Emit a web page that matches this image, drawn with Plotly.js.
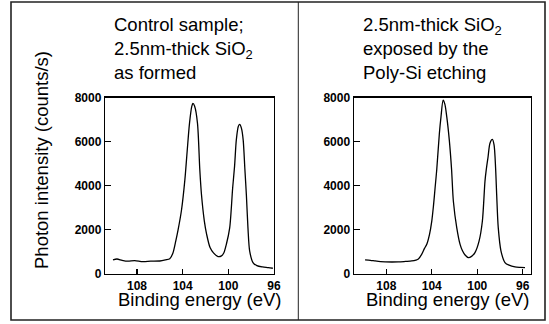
<!DOCTYPE html>
<html>
<head>
<meta charset="utf-8">
<script src="https://cdn.plot.ly/plotly-3.0.1.min.js"></script>
<style>html,body{margin:0;padding:0;background:#fff;}#chart{width:549px;height:324px;}</style>
</head>
<body>
<div id="chart"></div>
<script>
// Left panel: control sample, 2.5nm-thick SiO2 as formed
var energyControl = [110.1, 109.75, 109.3, 108.8, 108.2, 107.5, 106.8, 106.0, 105.5, 105.13, 104.85, 104.6, 104.4, 104.1, 103.8, 103.6, 103.4, 103.2, 103.1, 102.95, 102.7, 102.5, 102.35, 102.1, 101.9, 101.6, 101.3, 100.9, 100.6, 100.4, 100.17, 99.88, 99.62, 99.45, 99.3, 99.12, 99.0, 98.85, 98.7, 98.55, 98.42, 98.28, 98.13, 97.84, 97.5, 97.0, 96.5, 96.1];
var countsControl = [640, 680, 620, 580, 610, 560, 580, 590, 640, 690, 950, 1500, 2000, 2900, 4300, 5600, 6830, 7600, 7730, 7600, 6830, 4750, 3590, 2400, 1800, 1200, 960, 790, 820, 950, 1350, 2090, 3900, 4900, 6080, 6700, 6780, 6600, 6080, 4750, 3590, 2090, 1040, 520, 380, 320, 290, 260];

// Right panel: 2.5nm-thick SiO2 exposed by the Poly-Si etching
var energyEtched = [109.87, 109.4, 108.99, 108.5, 108.11, 107.5, 106.94, 106.3, 105.76, 105.4, 105.18, 104.88, 104.65, 104.44, 104.2, 104.0, 103.85, 103.71, 103.56, 103.33, 103.19, 103.0, 102.85, 102.68, 102.46, 102.26, 102.1, 101.8, 101.51, 101.3, 101.07, 100.78, 100.5, 100.2, 99.84, 99.55, 99.32, 99.2, 99.05, 98.88, 98.67, 98.52, 98.38, 98.29, 98.15, 97.91, 97.56, 97.2, 96.68, 96.2, 95.8];
var countsEtched = [640, 620, 590, 560, 550, 545, 550, 570, 590, 630, 680, 900, 1150, 1350, 1800, 2400, 3100, 3900, 4750, 6380, 7120, 7880, 7700, 7120, 6080, 4750, 3300, 2090, 1340, 1050, 860, 740, 800, 970, 1490, 2390, 4200, 4750, 5300, 5930, 6100, 5850, 4750, 3590, 2090, 1040, 520, 400, 320, 300, 290];

var xTicks = [108, 104, 100, 96];
var yTicks = [0, 2000, 4000, 6000, 8000];
var xTitle = 'Binding energy (eV)';
var yTitle = 'Photon intensity (counts/s)';
var titleLeft = 'Control sample;<br>2.5nm-thick SiO<sub>2</sub><br>as formed';
var titleRight = '2.5nm-thick SiO<sub>2</sub><br>exposed by the<br>Poly-Si etching';

var W = 549, H = 324;
function px(x){ return x / W; }
function py(y){ return 1 - y / H; }

var FONT = 'Arial, "Liberation Sans", sans-serif';
var BIG = 18.5;

var traces = [
  {x: energyControl, y: countsControl, xaxis: 'x', yaxis: 'y', type: 'scatter', mode: 'lines',
   line: {color: '#000', width: 1.3, shape: 'spline', smoothing: 0.8}, hoverinfo: 'skip'},
  {x: energyEtched, y: countsEtched, xaxis: 'x2', yaxis: 'y2', type: 'scatter', mode: 'lines',
   line: {color: '#000', width: 1.3, shape: 'spline', smoothing: 0.8}, hoverinfo: 'skip'}
];

function xAx(domain, range, anchor){
  return {domain: domain, range: range, anchor: anchor, tickmode: 'array', tickvals: xTicks,
    ticktext: xTicks.map(String), ticks: 'inside', ticklen: 5, tickwidth: 1.2, tickcolor: '#000',
    showline: true, mirror: true, linecolor: '#000', linewidth: 1.2, showgrid: false, zeroline: false,
    tickfont: {family: FONT, size: 12, color: '#000', weight: 'bold'}};
}
function yAx(domain, anchor){
  return {domain: domain, range: [0, 8000], anchor: anchor, tickmode: 'array', tickvals: yTicks,
    ticktext: yTicks.map(String), ticks: 'inside', ticklen: 6, tickwidth: 1.2, tickcolor: '#000',
    showline: true, mirror: true, linecolor: '#000', linewidth: 1.2, showgrid: false, zeroline: false,
    tickfont: {family: FONT, size: 12, color: '#000', weight: 'bold'}};
}

var yDom = [py(274), py(97.5)];
var layout = {
  width: W, height: H, margin: {l: 0, r: 0, t: 0, b: 0},
  paper_bgcolor: '#fff', plot_bgcolor: '#fff', showlegend: false,
  font: {family: FONT, color: '#000'},
  xaxis: xAx([px(105), px(274)], [110.8, 96.0], 'y'),
  yaxis: yAx(yDom, 'x'),
  xaxis2: xAx([px(353.7), px(531)], [110.87, 95.27], 'y2'),
  yaxis2: yAx(yDom, 'x2'),
  annotations: [
    {text: titleLeft, xref: 'paper', yref: 'paper', x: px(112), y: py(48), xanchor: 'left', yanchor: 'middle',
     align: 'left', showarrow: false, font: {family: FONT, size: BIG, color: '#000'}},
    {text: titleRight, xref: 'paper', yref: 'paper', x: px(361), y: py(48), xanchor: 'left', yanchor: 'middle',
     align: 'left', showarrow: false, font: {family: FONT, size: BIG, color: '#000'}},
    {text: xTitle, xref: 'paper', yref: 'paper', x: px(200), y: py(299), xanchor: 'center', yanchor: 'middle',
     showarrow: false, font: {family: FONT, size: BIG, color: '#000'}},
    {text: xTitle, xref: 'paper', yref: 'paper', x: px(448), y: py(299), xanchor: 'center', yanchor: 'middle',
     showarrow: false, font: {family: FONT, size: BIG, color: '#000'}},
    {text: yTitle, xref: 'paper', yref: 'paper', x: px(41), y: py(160), xanchor: 'center', yanchor: 'middle',
     textangle: -90, showarrow: false, font: {family: FONT, size: BIG, color: '#000'}}
  ],
  shapes: [
    {type: 'rect', xref: 'paper', yref: 'paper', x0: px(11), x1: px(545), y0: py(320), y1: py(2),
     line: {color: '#222', width: 1.6}},
    {type: 'line', xref: 'paper', yref: 'paper', x0: px(298.3), x1: px(298.3), y0: py(320), y1: py(2),
     line: {color: '#222', width: 1}}
  ]
};

Plotly.newPlot('chart', traces, layout, {staticPlot: true, displayModeBar: false});
</script>
</body>
</html>
